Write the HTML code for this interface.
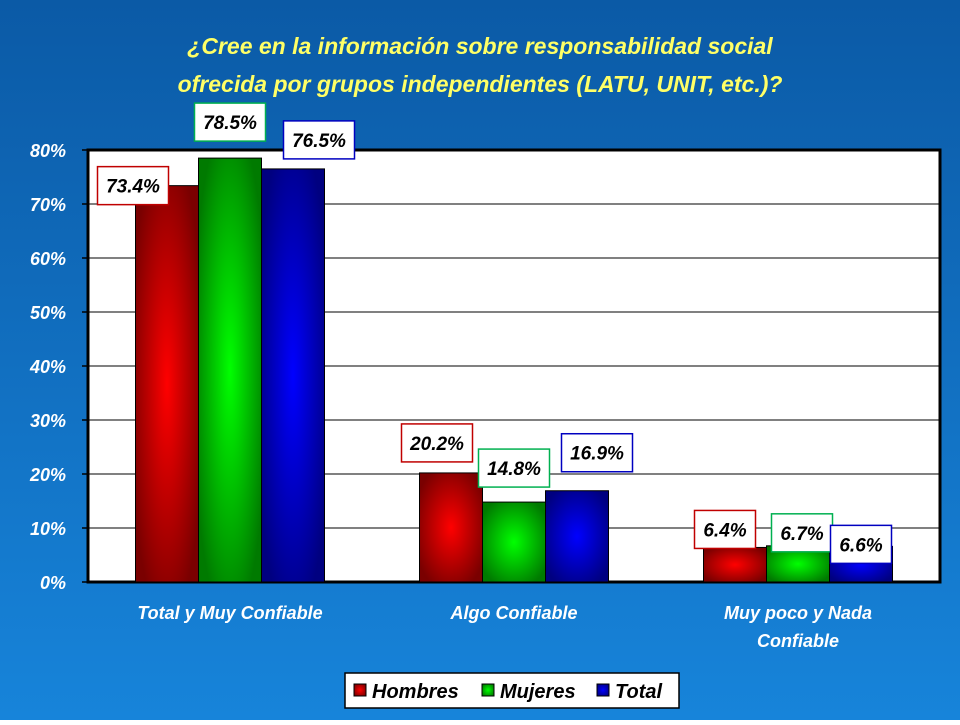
<!DOCTYPE html>
<html><head><meta charset="utf-8"><style>
html,body{margin:0;padding:0}
body{width:960px;height:720px;overflow:hidden;font-family:"Liberation Sans",sans-serif}
</style></head><body>
<svg id="c" width="960" height="720" xmlns="http://www.w3.org/2000/svg">
<defs>
<linearGradient id="bg" x1="0" y1="0" x2="0" y2="1"><stop offset="0" stop-color="#0b5aa6"/><stop offset="1" stop-color="#1784da"/></linearGradient>
<radialGradient id="gr0" cx="0.5" cy="0.5" r="0.6"><stop offset="0" stop-color="#ff0000"/><stop offset="1" stop-color="#7a0000"/></radialGradient>
<radialGradient id="gr1" cx="0.5" cy="0.5" r="0.6"><stop offset="0" stop-color="#00ff00"/><stop offset="1" stop-color="#007a00"/></radialGradient>
<radialGradient id="gr2" cx="0.5" cy="0.5" r="0.6"><stop offset="0" stop-color="#0000ff"/><stop offset="1" stop-color="#000080"/></radialGradient>
</defs>
<rect width="960" height="720" fill="url(#bg)"/>
<text x="480" y="54" text-anchor="middle" font-size="23" font-weight="bold" font-style="italic" fill="#ffff66">¿Cree en la información sobre responsabilidad social</text>
<text x="480" y="92" text-anchor="middle" font-size="23" font-weight="bold" font-style="italic" fill="#ffff66">ofrecida por grupos independientes (LATU, UNIT, etc.)?</text>
<rect x="88" y="150" width="852" height="432" fill="#fff" stroke="#000" stroke-width="3"/>
<g id="grid"></g><g id="bars"></g><g id="labels"></g>
<g>
<rect x="345" y="673" width="334" height="35" fill="#fff" stroke="#000" stroke-width="1.5"/>
<rect x="354" y="684" width="12" height="12" fill="url(#gr0)" stroke="#000"/>
<text x="372" y="698" font-size="20" font-weight="bold" font-style="italic">Hombres</text>
<rect x="482" y="684" width="12" height="12" fill="url(#gr1)" stroke="#000"/>
<text x="500" y="698" font-size="20" font-weight="bold" font-style="italic">Mujeres</text>
<rect x="597" y="684" width="12" height="12" fill="url(#gr2)" stroke="#000"/>
<text x="615" y="698" font-size="20" font-weight="bold" font-style="italic">Total</text>
</g>
</svg>
<script>
const categories=[["Total y Muy Confiable"],["Algo Confiable"],["Muy poco y Nada","Confiable"]];
const seriesNames=["Hombres","Mujeres","Total"];
const hombres=[73.4,20.2,6.4];
const mujeres=[78.5,14.8,6.7];
const total=[76.5,16.9,6.6];
const yTicks=[0,10,20,30,40,50,60,70,80];
const series=[hombres,mujeres,total];
const ns="http://www.w3.org/2000/svg";
const X0=88,X1=940,Y0=582,Y1=150,YMAX=80;
const y=v=>Y0-(v/YMAX)*(Y0-Y1);
const gw=(X1-X0)/categories.length, bw=63;
const x=(ci,si)=>X0+ci*gw+gw/2-1.5*bw+si*bw;
const colors=["#c00000","#00b050","#0000c0"];
const dxs=[[-34,0,26],[-14,0,20],[-10,4,0]];
const dys=[[0,-36,-29],[-30,-34,-38],[-18,-13,-2]];
function mk(t,a,p){const e=document.createElementNS(ns,t);for(const k in a)e.setAttribute(k,a[k]);p.appendChild(e);return e;}
const grid=document.getElementById('grid'),bars=document.getElementById('bars'),labels=document.getElementById('labels'),svg=document.getElementById('c');
yTicks.forEach(t=>{
  if(t>0&&t<YMAX){const l=mk('line',{x1:X0,x2:X1,y1:y(t),y2:y(t),stroke:'#000','stroke-width':1},grid);
  
  }
  const tk=mk('line',{x1:X0-6,x2:X0,y1:y(t),y2:y(t),stroke:'#000','stroke-width':1.5},grid);
  
  
  const tx=mk('text',{x:X0-22,y:y(t)+7,'text-anchor':'end','font-size':18,'font-weight':'bold','font-style':'italic',fill:'#fff'},grid);
  tx.textContent=t+'%';
  
  
});
categories.forEach((c,ci)=>{
  c.forEach((ln,li)=>{
    const t=mk('text',{x:X0+ci*gw+gw/2,y:619+li*28,'text-anchor':'middle','font-size':18,'font-weight':'bold','font-style':'italic',fill:'#fff'},svg);
    t.textContent=ln;
    
    
  });
  series.forEach((s,si)=>{
    const v=s[ci];
    const r=mk('rect',{x:x(ci,si),y:y(v),width:bw,height:Y0-y(v),fill:'url(#gr'+si+')',stroke:'#000','stroke-width':1},bars);
    
    
    const cx=x(ci,si)+bw/2+dxs[ci][si], cy=y(v)+dys[ci][si];
    const w=ci==2?61:71;
    const b=mk('rect',{x:cx-w/2,y:cy-19,width:w,height:38,fill:'#fff',stroke:colors[si],'stroke-width':1.5},labels);
    
    
    const t=mk('text',{x:cx,y:cy+7,'text-anchor':'middle','font-size':19,'font-weight':'bold','font-style':'italic',fill:'#000'},labels);
    t.textContent=v.toFixed(1)+'%';
    
    
  });
});
</script>
</body></html>
